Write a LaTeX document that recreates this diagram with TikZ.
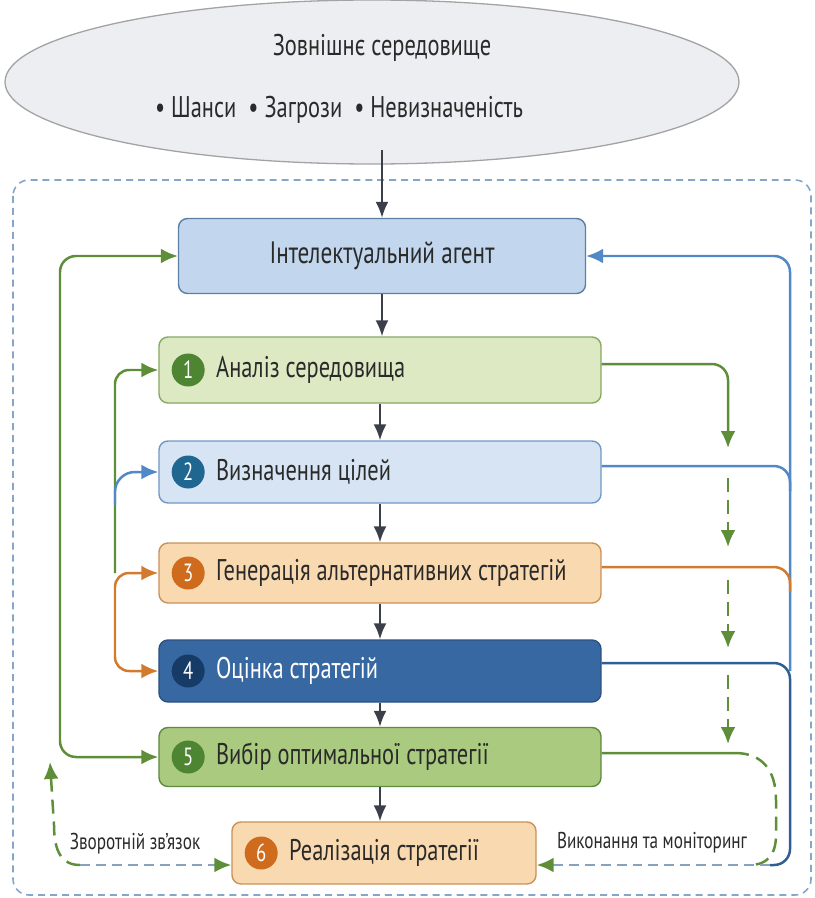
\documentclass[tikz,border=0pt]{standalone}
\usepackage{fontspec}
\setmainfont{PT Sans}[FakeStretch=0.75]
\usepackage{tikz}
\usetikzlibrary{arrows.meta, shapes.geometric, positioning}

\definecolor{lnGreen}{HTML}{5E8F38}
\definecolor{lnBlue}{HTML}{5088C8}
\definecolor{lnOrange}{HTML}{D27A2E}
\definecolor{lnNavy}{HTML}{2E5E93}
\definecolor{lnGray}{HTML}{86A2BE}
\definecolor{frameBlue}{HTML}{86A6C8}
\definecolor{arrDark}{HTML}{3A3F4A}
\definecolor{txtDark}{HTML}{2A2A2A}
\definecolor{ellFill}{HTML}{EDEEF1}
\definecolor{ellLine}{HTML}{A3A3A5}
\definecolor{agentFill}{HTML}{C2D7ED}
\definecolor{agentLine}{HTML}{5D7FA3}
\definecolor{anFill}{HTML}{DDE9C3}
\definecolor{anLine}{HTML}{86A862}
\definecolor{goalFill}{HTML}{D7E4F3}
\definecolor{goalLine}{HTML}{7098C4}
\definecolor{genFill}{HTML}{F9D9AF}
\definecolor{genLine}{HTML}{C8925A}
\definecolor{evalFill}{HTML}{3868A2}
\definecolor{evalLine}{HTML}{2B5283}
\definecolor{selFill}{HTML}{A9CA7F}
\definecolor{selLine}{HTML}{5F8B3E}
\definecolor{dotGreen}{HTML}{4E8532}
\definecolor{dotBlue}{HTML}{1F6690}
\definecolor{dotOrange}{HTML}{CF6B1C}
\definecolor{dotNavy}{HTML}{173B67}

\begin{document}
\begin{tikzpicture}[x=1bp, y=-1bp, line width=2.5pt, >={Latex[length=17pt, width=15pt]},
		every node/.style={inner sep=0pt},
		box/.style={draw, rounded corners=9pt, line width=1.4pt, minimum width=442bp, minimum height=62bp},
		num/.style={circle, fill=#1, text=white, minimum size=33bp, font=\fontsize{25}{25}\selectfont},
		lbl/.style={right=9pt of #1, font=\fontsize{30}{32}\selectfont, text=txtDark},
		note/.style={font=\fontsize{23}{25}\selectfont, text=txtDark},
		flow/.style={draw=arrDark, line width=2pt, -{Latex[length=16pt, width=13pt]}},
		grayDash/.style={draw=lnGray, line width=2.5pt, dash pattern=on 10pt off 6pt},
		greenDash/.style={draw=lnGreen, line width=2.5pt, dash pattern=on 14pt off 8pt}]
	\useasboundingbox (0,0) rectangle (815,898);
	
	% === 外部环境 ===
	\node[ellipse, draw=ellLine, fill=ellFill, line width=1.3pt, minimum width=734bp, minimum height=164bp] (env) at (372,82) {};
	\node[font=\fontsize{30}{32}\selectfont, text=txtDark] (envtitle) at (382,48) {Зовнішнє середовище};
	\node[font=\fontsize{30}{32}\selectfont, text=txtDark] (envlist) at (339,110) {• Шанси \ • Загрози \ • Невизначеність};
	\coordinate (envout) at (382,150);
	
	% 虚线框
	\draw[draw=frameBlue, line width=1.6pt, dash pattern=on 7pt off 5pt, rounded corners=16pt] (13,180) rectangle (811,895);
	
	% === 智能体与各步骤 ===
	\node[box, fill=agentFill, draw=agentLine, minimum width=407bp, minimum height=75bp] (agent) at (382,256) {};
	\node[font=\fontsize{31}{32}\selectfont, text=txtDark] (agenttext) at (agent) {Інтелектуальний агент};
	
	\node[box, fill=anFill, draw=anLine, minimum height=66bp] (box1) at (380,370) {};
	\node[num=dotGreen] (n1) at ([xshift=30pt]box1.west) {1};
	\node[lbl=n1] (t1) {Аналіз середовища};
	
	\node[box, fill=goalFill, draw=goalLine] (box2) at (380,472) {};
	\node[num=dotBlue] (n2) at ([xshift=30pt]box2.west) {2};
	\node[lbl=n2] (t2) {Визначення цілей};
	
	\node[box, fill=genFill, draw=genLine, minimum height=60bp] (box3) at (380,573) {};
	\node[num=dotOrange] (n3) at ([xshift=30pt]box3.west) {3};
	\node[lbl=n3] (t3) {Генерація альтернативних стратегій};
	
	\node[box, fill=evalFill, draw=evalLine] (box4) at (380,671) {};
	\node[num=dotNavy] (n4) at ([xshift=30pt]box4.west) {4};
	\node[lbl=n4, text=white] (t4) {Оцінка стратегій};
	
	\node[box, fill=selFill, draw=selLine, minimum height=59bp] (box5) at (380,757) {};
	\node[num=dotGreen] (n5) at ([xshift=30pt]box5.west) {5};
	\node[lbl=n5] (t5) {Вибір оптимальної стратегії};
	
	\node[box, fill=genFill, draw=genLine, minimum width=304bp] (box6) at (384,853) {};
	\node[num=dotOrange] (n6) at ([xshift=30pt]box6.west) {6};
	\node[lbl=n6] (t6) {Реалізація стратегії};
	
	% 主流程箭头
	\draw[flow] (envout) -- (agent.north);
	\draw[flow] (agent.south) -- (agent.south |- box1.north);
	\draw[flow] (box1.south) -- (box2.north);
	\draw[flow] (box2.south) -- (box3.north);
	\draw[flow] (box3.south) -- (box4.north);
	\draw[flow] (box4.south) -- (box5.north);
	\draw[flow] (box5.south) -- (box5.south |- box6.north);
	
	% === 左侧连线 ===
	\coordinate (outerL) at (60,0);
	\coordinate (innerL) at (115,0);
	\coordinate (blueFork) at (115,505);
	\draw[lnGreen, <->, rounded corners=16pt] (agent.west) -- (agent.west -| outerL) -- (box5.west -| outerL) -- (box5.west);
	\draw[lnGreen, <-, rounded corners=14pt] (box1.west) -- (box1.west -| innerL) -- (box3.west -| innerL);
	\draw[lnBlue, ->, rounded corners=20pt] (blueFork) |- (box2.west);
	\draw[lnOrange, <->, rounded corners=14pt] (box3.west) -- (box3.west -| innerL) -- (box4.west -| innerL) -- (box4.west);
	
	% === 右侧连线 (出口略高于中线) ===
	\coordinate (busR) at (790,0);
	\coordinate (midG) at (728,0);
	\coordinate (monR) at (770,865);
	\coordinate (monG) at (750,865);
	\draw[lnBlue, <-, rounded corners=16pt] (agent.east) -- (agent.east -| busR) -- (busR |- box4.east);
	\draw[lnBlue, rounded corners=16pt] ([yshift=6pt]box2.east) -- ([yshift=6pt]box2.east -| busR) -- ++(0,25);
	\draw[lnOrange, rounded corners=16pt] ([yshift=6pt]box3.east) -- ([yshift=6pt]box3.east -| busR) -- ++(0,25);
	\draw[lnNavy, rounded corners=16pt] ([yshift=8pt]box4.east) -- ([yshift=8pt]box4.east -| busR) -- (busR |- monR) -- (monR);
	
	% 中间绿色箭头
	\coordinate (g1) at (728,448);
	\coordinate (g2) at (728,478);
	\coordinate (g3) at (728,547);
	\coordinate (g4) at (728,580);
	\coordinate (g5) at (728,648);
	\coordinate (g6) at (728,675);
	\coordinate (g7) at (728,744);
	\draw[lnGreen, ->, rounded corners=16pt] ([yshift=6pt]box1.east) -- ([yshift=6pt]box1.east -| midG) -- (g1);
	\draw[greenDash, ->] (g2) -- (g3);
	\draw[greenDash, ->] (g4) -- (g5);
	\draw[greenDash, ->] (g6) -- (g7);
	
	% 执行与监控
	\coordinate (selEnd) at (735,753);
	\draw[lnGreen] ([yshift=4pt]box5.east) -- (selEnd);
	\draw[greenDash] (selEnd) .. controls (762,753) and (776,770) .. (776,800) -- (776,835) .. controls (776,856) and (766,865) .. (monG);
	\draw[grayDash, -{Latex[length=17pt, width=15pt, color=lnGreen]}] (monR) -- (monR -| box6.east);
	\node[note] (montext) at (652,843) {Виконання та моніторинг};
	
	% 反馈
	\coordinate (fbL) at (80,865);
	\coordinate (fbTop) at (50,762);
	\draw[grayDash, -{Latex[length=17pt, width=15pt, color=lnGreen]}] (fbL) -- (fbL -| box6.west);
	\draw[greenDash, ->] (fbL) .. controls (62,865) and (54,852) .. (54,825) -- (fbTop);
	\node[note] (fbtext) at (135,844) {Зворотній зв’язок};
\end{tikzpicture}
\end{document}
